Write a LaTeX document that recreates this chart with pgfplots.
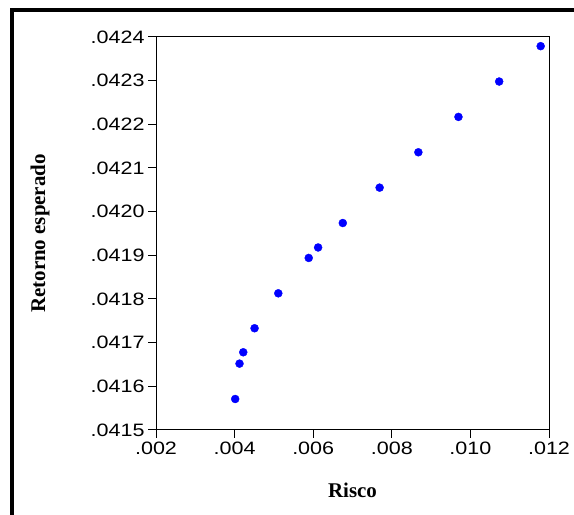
\documentclass[border=0pt]{standalone}
\usepackage{fontspec}
\setmainfont{Liberation Serif}
\newfontfamily\tickfont[FakeStretch=1.2]{Liberation Sans}
\usepackage{pgfplots}
\pgfplotsset{compat=1.18}
\definecolor{dotblue}{RGB}{0,0,255}
\begin{document}
\begin{tikzpicture}[x=1bp,y=1bp]
\useasboundingbox (0,0) rectangle (574,515);
\draw[line width=3.5bp] (12,0) -- (12,505) -- (574,505);
\begin{axis}[
  at={(156bp,85bp)}, anchor=south west,
  scale only axis, width=393bp, height=393bp,
  xmin=0.002, xmax=0.012, ymin=0.0415, ymax=0.0424,
  scaled ticks=false,
  xtick={0.002,0.004,0.006,0.008,0.010,0.012},
  xticklabels={.002,.004,.006,.008,.010,.012},
  ytick={0.0415,0.0416,0.0417,0.0418,0.0419,0.0420,0.0421,0.0422,0.0423,0.0424},
  yticklabels={.0415,.0416,.0417,.0418,.0419,.0420,.0421,.0422,.0423,.0424},
  tick align=outside, major tick length=8bp,
  xtick pos=bottom, ytick pos=left,
  axis line style={line width=1bp},
  every tick/.style={black, line width=1bp},
  tick label style={font=\tickfont\fontsize{18}{18}\selectfont},
  xlabel={\bfseries Risco}, ylabel={\bfseries Retorno esperado},
  label style={font=\fontsize{21}{21}\selectfont},
  xlabel style={at={(axis description cs:0.5,0)}, anchor=base, yshift=-68bp},
  ylabel style={at={(axis description cs:0,0.5)}, anchor=center, yshift=116bp},
]
\addplot[only marks, mark=*, mark size=4bp, color=dotblue] coordinates {
(0.004015,0.041571)
(0.004125,0.041652)
(0.004220,0.041678)
(0.004508,0.041733)
(0.005112,0.041813)
(0.005886,0.041894)
(0.006125,0.041918)
(0.006753,0.041974)
(0.007690,0.042055)
(0.008676,0.042136)
(0.009696,0.042217)
(0.010732,0.042298)
(0.011788,0.042379)
};
\end{axis}
\end{tikzpicture}
\end{document}
